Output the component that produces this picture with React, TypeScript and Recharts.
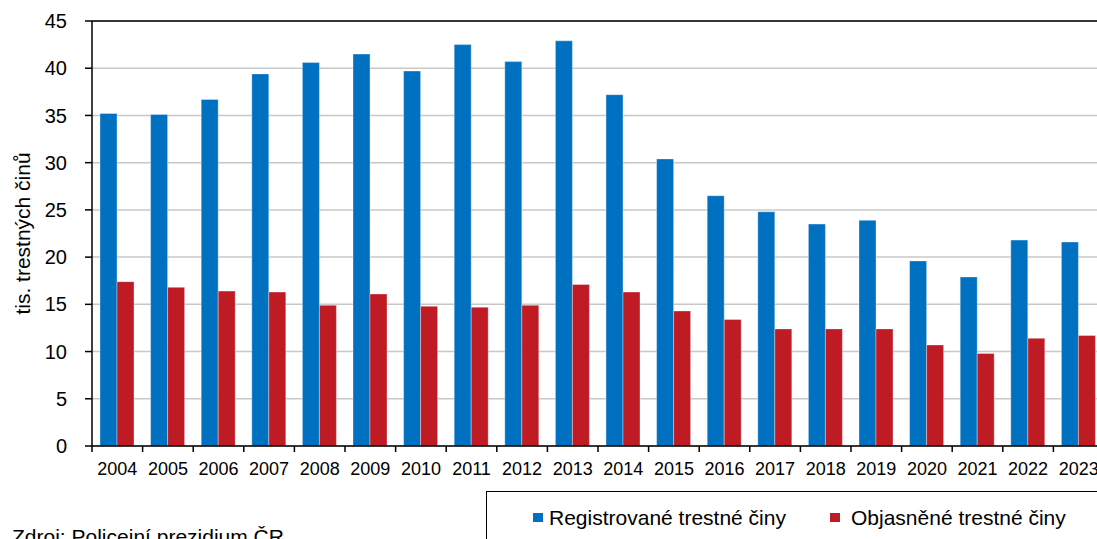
import React from 'react';
import { BarChart, Bar, XAxis, YAxis, CartesianGrid, ReferenceLine, Label } from 'recharts';

const years = ['2004','2005','2006','2007','2008','2009','2010','2011','2012','2013','2014','2015','2016','2017','2018','2019','2020','2021','2022','2023'];
const registrovane = [35.2, 35.1, 36.7, 39.4, 40.6, 41.5, 39.7, 42.5, 40.7, 42.9, 37.2, 30.4, 26.5, 24.8, 23.5, 23.9, 19.6, 17.9, 21.8, 21.6];
const objasnene = [17.4, 16.8, 16.4, 16.3, 14.9, 16.1, 14.8, 14.7, 14.9, 17.1, 16.3, 14.3, 13.4, 12.4, 12.4, 12.4, 10.7, 9.8, 11.4, 11.7];
const yTicks = [0, 5, 10, 15, 20, 25, 30, 35, 40, 45];
const seriesNames = ['Registrované trestné činy', 'Objasněné trestné činy'];
const yLabel = 'tis. trestných činů';
const source = 'Zdroj: Policejní prezidium ČR';

const BLUE = '#0070C0';
const RED = '#BE1B24';
const FONT = '"Liberation Sans", Arial, sans-serif';

const data = years.map((y, i) => ({ year: y, reg: registrovane[i], obj: objasnene[i] }));

const XTick = (props: any) => {
  const { x, y, payload, index, width } = props;
  const band = width / years.length;
  const half = band / 2;
  return (
    <g>
      <line x1={x - half} x2={x - half} y1={y} y2={y + 6} stroke="#000" strokeWidth={1.5} />
      {index === years.length - 1 && (
        <line x1={x + half} x2={x + half} y1={y} y2={y + 6} stroke="#000" strokeWidth={1.5} />
      )}
      <text x={x} y={y + 23} dy="0.355em" textAnchor="middle" fontSize={18} fontFamily={FONT} fill="#000">
        {payload.value}
      </text>
    </g>
  );
};

const YLabel = (props: any) => {
  const vb = props.viewBox || { y: 21, height: 425 };
  const cy = vb.y + vb.height / 2;
  const cx = 22;
  return (
    <text x={cx} y={cy} transform={`rotate(-90, ${cx}, ${cy})`} textAnchor="middle" dominantBaseline="central"
      fontSize={21} fontFamily={FONT} fill="#000">
      {yLabel}
    </text>
  );
};

export default function App() {
  return (
    <div style={{ position: 'fixed', left: 0, top: 0, width: 1097, height: 539, overflow: 'hidden', background: '#fff' }}>
      <BarChart
        width={1120}
        height={560}
        data={data}
        margin={{ top: 21, right: 16, left: 0, bottom: 84 }}
        barCategoryGap={8}
        barGap={0}
      >
        <CartesianGrid vertical={false} stroke="#c8c8c8" strokeWidth={1.5} />
        <XAxis
          dataKey="year"
          height={30}
          tickLine={false}
          tickSize={0}
          tickMargin={0}
          interval={0}
          axisLine={{ stroke: '#000', strokeWidth: 1.5 }}
          tick={<XTick />}
        />
        <YAxis
          width={92}
          domain={[0, 45]}
          ticks={yTicks}
          interval={0}
          tickSize={7}
          tickMargin={18}
          tickLine={{ stroke: '#000', strokeWidth: 1.5 }}
          axisLine={{ stroke: '#000', strokeWidth: 1.5 }}
          tick={{ fontSize: 20, fontFamily: FONT, fill: '#000' }}
        >
          <Label content={<YLabel />} />
        </YAxis>
        <ReferenceLine y={45} stroke="#000" strokeWidth={1.5} />
        <Bar dataKey="reg" name={seriesNames[0]} fill={BLUE} stroke="#ffffff" strokeOpacity={0.35} strokeWidth={1} isAnimationActive={false} />
        <Bar dataKey="obj" name={seriesNames[1]} fill={RED} stroke="#ffffff" strokeOpacity={0.35} strokeWidth={1} isAnimationActive={false} />
      </BarChart>

      <div style={{ position: 'absolute', left: 486, top: 491, width: 700, height: 100, border: '1.5px solid #000', boxSizing: 'border-box' }} />
      <div style={{ position: 'absolute', left: 533, top: 513, width: 10, height: 9, background: BLUE }} />
      <div style={{ position: 'absolute', left: 549, top: 507, fontSize: 21, lineHeight: '21px', fontFamily: FONT, color: '#000', whiteSpace: 'nowrap' }}>
        {seriesNames[0]}
      </div>
      <div style={{ position: 'absolute', left: 830, top: 513, width: 10, height: 9, background: RED }} />
      <div style={{ position: 'absolute', left: 851, top: 507, fontSize: 21, lineHeight: '21px', fontFamily: FONT, color: '#000', whiteSpace: 'nowrap' }}>
        {seriesNames[1]}
      </div>
      <div style={{ position: 'absolute', left: 12, top: 526, fontSize: 21, lineHeight: '21px', fontFamily: FONT, color: '#000', whiteSpace: 'nowrap' }}>
        {source}
      </div>
    </div>
  );
}
